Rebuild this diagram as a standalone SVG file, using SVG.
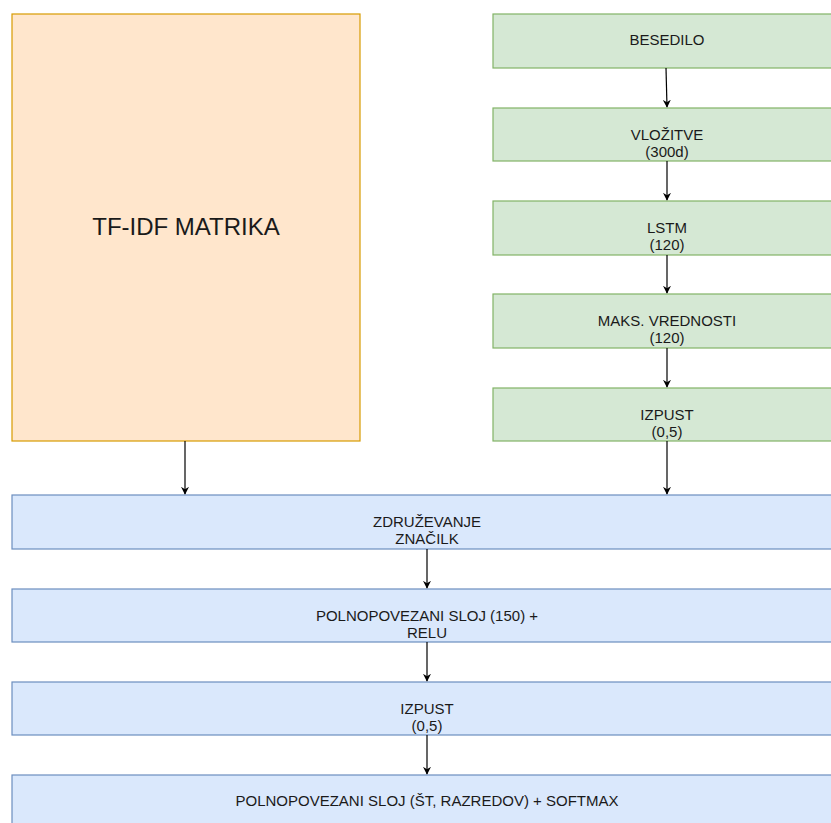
<svg xmlns="http://www.w3.org/2000/svg" width="831" height="823" viewBox="0 0 831 823">
<defs>
<marker id="arr" viewBox="0 0 10 10" refX="9" refY="5" markerWidth="8" markerHeight="8" markerUnits="userSpaceOnUse" orient="auto">
<path d="M0,0 L10,5 L0,10 L3,5 Z" fill="#000"/>
</marker>
<style>
.o{fill:#ffe6cc;stroke:#d79b00;stroke-width:1.2}
.g{fill:#d5e8d4;stroke:#82b366;stroke-width:1.2}
.b{fill:#dae8fc;stroke:#6c8ebf;stroke-width:1.2}
text{font-family:"Liberation Sans",Arial,sans-serif;font-size:15px;fill:#1a1a1a;text-anchor:middle}
.big{font-size:24px}
.e{stroke:#000;stroke-width:1.2;fill:none;marker-end:url(#arr)}
</style>
</defs>
<rect width="831" height="823" fill="#fff"/>
<g id="tfidf"><rect class="o" x="12" y="14" width="348" height="427"/><text class="big" x="186" y="235">TF-IDF MATRIKA</text></g>
<g id="besedilo"><rect class="g" x="493" y="14" width="350" height="54"/><text x="667" y="45">BESEDILO</text></g>
<g id="vlozitve"><rect class="g" x="493" y="108" width="350" height="53"/><text x="667" y="140">VLOŽITVE</text><text x="667" y="157">(300d)</text></g>
<g id="lstm"><rect class="g" x="493" y="201" width="350" height="54"/><text x="667" y="233">LSTM</text><text x="667" y="250">(120)</text></g>
<g id="maks"><rect class="g" x="493" y="294" width="350" height="54"/><text x="667" y="326">MAKS. VREDNOSTI</text><text x="667" y="343">(120)</text></g>
<g id="izpust1"><rect class="g" x="493" y="388" width="350" height="53"/><text x="667" y="420">IZPUST</text><text x="667" y="437">(0,5)</text></g>
<g id="zdruzevanje"><rect class="b" x="12" y="495" width="831" height="54"/><text x="427" y="527">ZDRUŽEVANJE</text><text x="427" y="544">ZNAČILK</text></g>
<g id="polno1"><rect class="b" x="12" y="589" width="831" height="53"/><text x="427" y="621">POLNOPOVEZANI SLOJ (150) +</text><text x="427" y="638">RELU</text></g>
<g id="izpust2"><rect class="b" x="12" y="682" width="831" height="53"/><text x="427" y="714">IZPUST</text><text x="427" y="731">(0,5)</text></g>
<g id="polno2"><rect class="b" x="12" y="775" width="831" height="60"/><text x="427" y="806">POLNOPOVEZANI SLOJ (ŠT, RAZREDOV) + SOFTMAX</text></g>
<g id="connectors">
<path class="e" d="M666,68 L667,107"/>
<path class="e" d="M667,161 L667,200"/>
<path class="e" d="M667,255 L667,293"/>
<path class="e" d="M667,348 L667,387"/>
<path class="e" d="M667,441 L667,494"/>
<path class="e" d="M185,441 L185,494"/>
<path class="e" d="M427,549 L427,588"/>
<path class="e" d="M427,642 L427,681"/>
<path class="e" d="M427,735 L427,774"/>
</g>
</svg>
